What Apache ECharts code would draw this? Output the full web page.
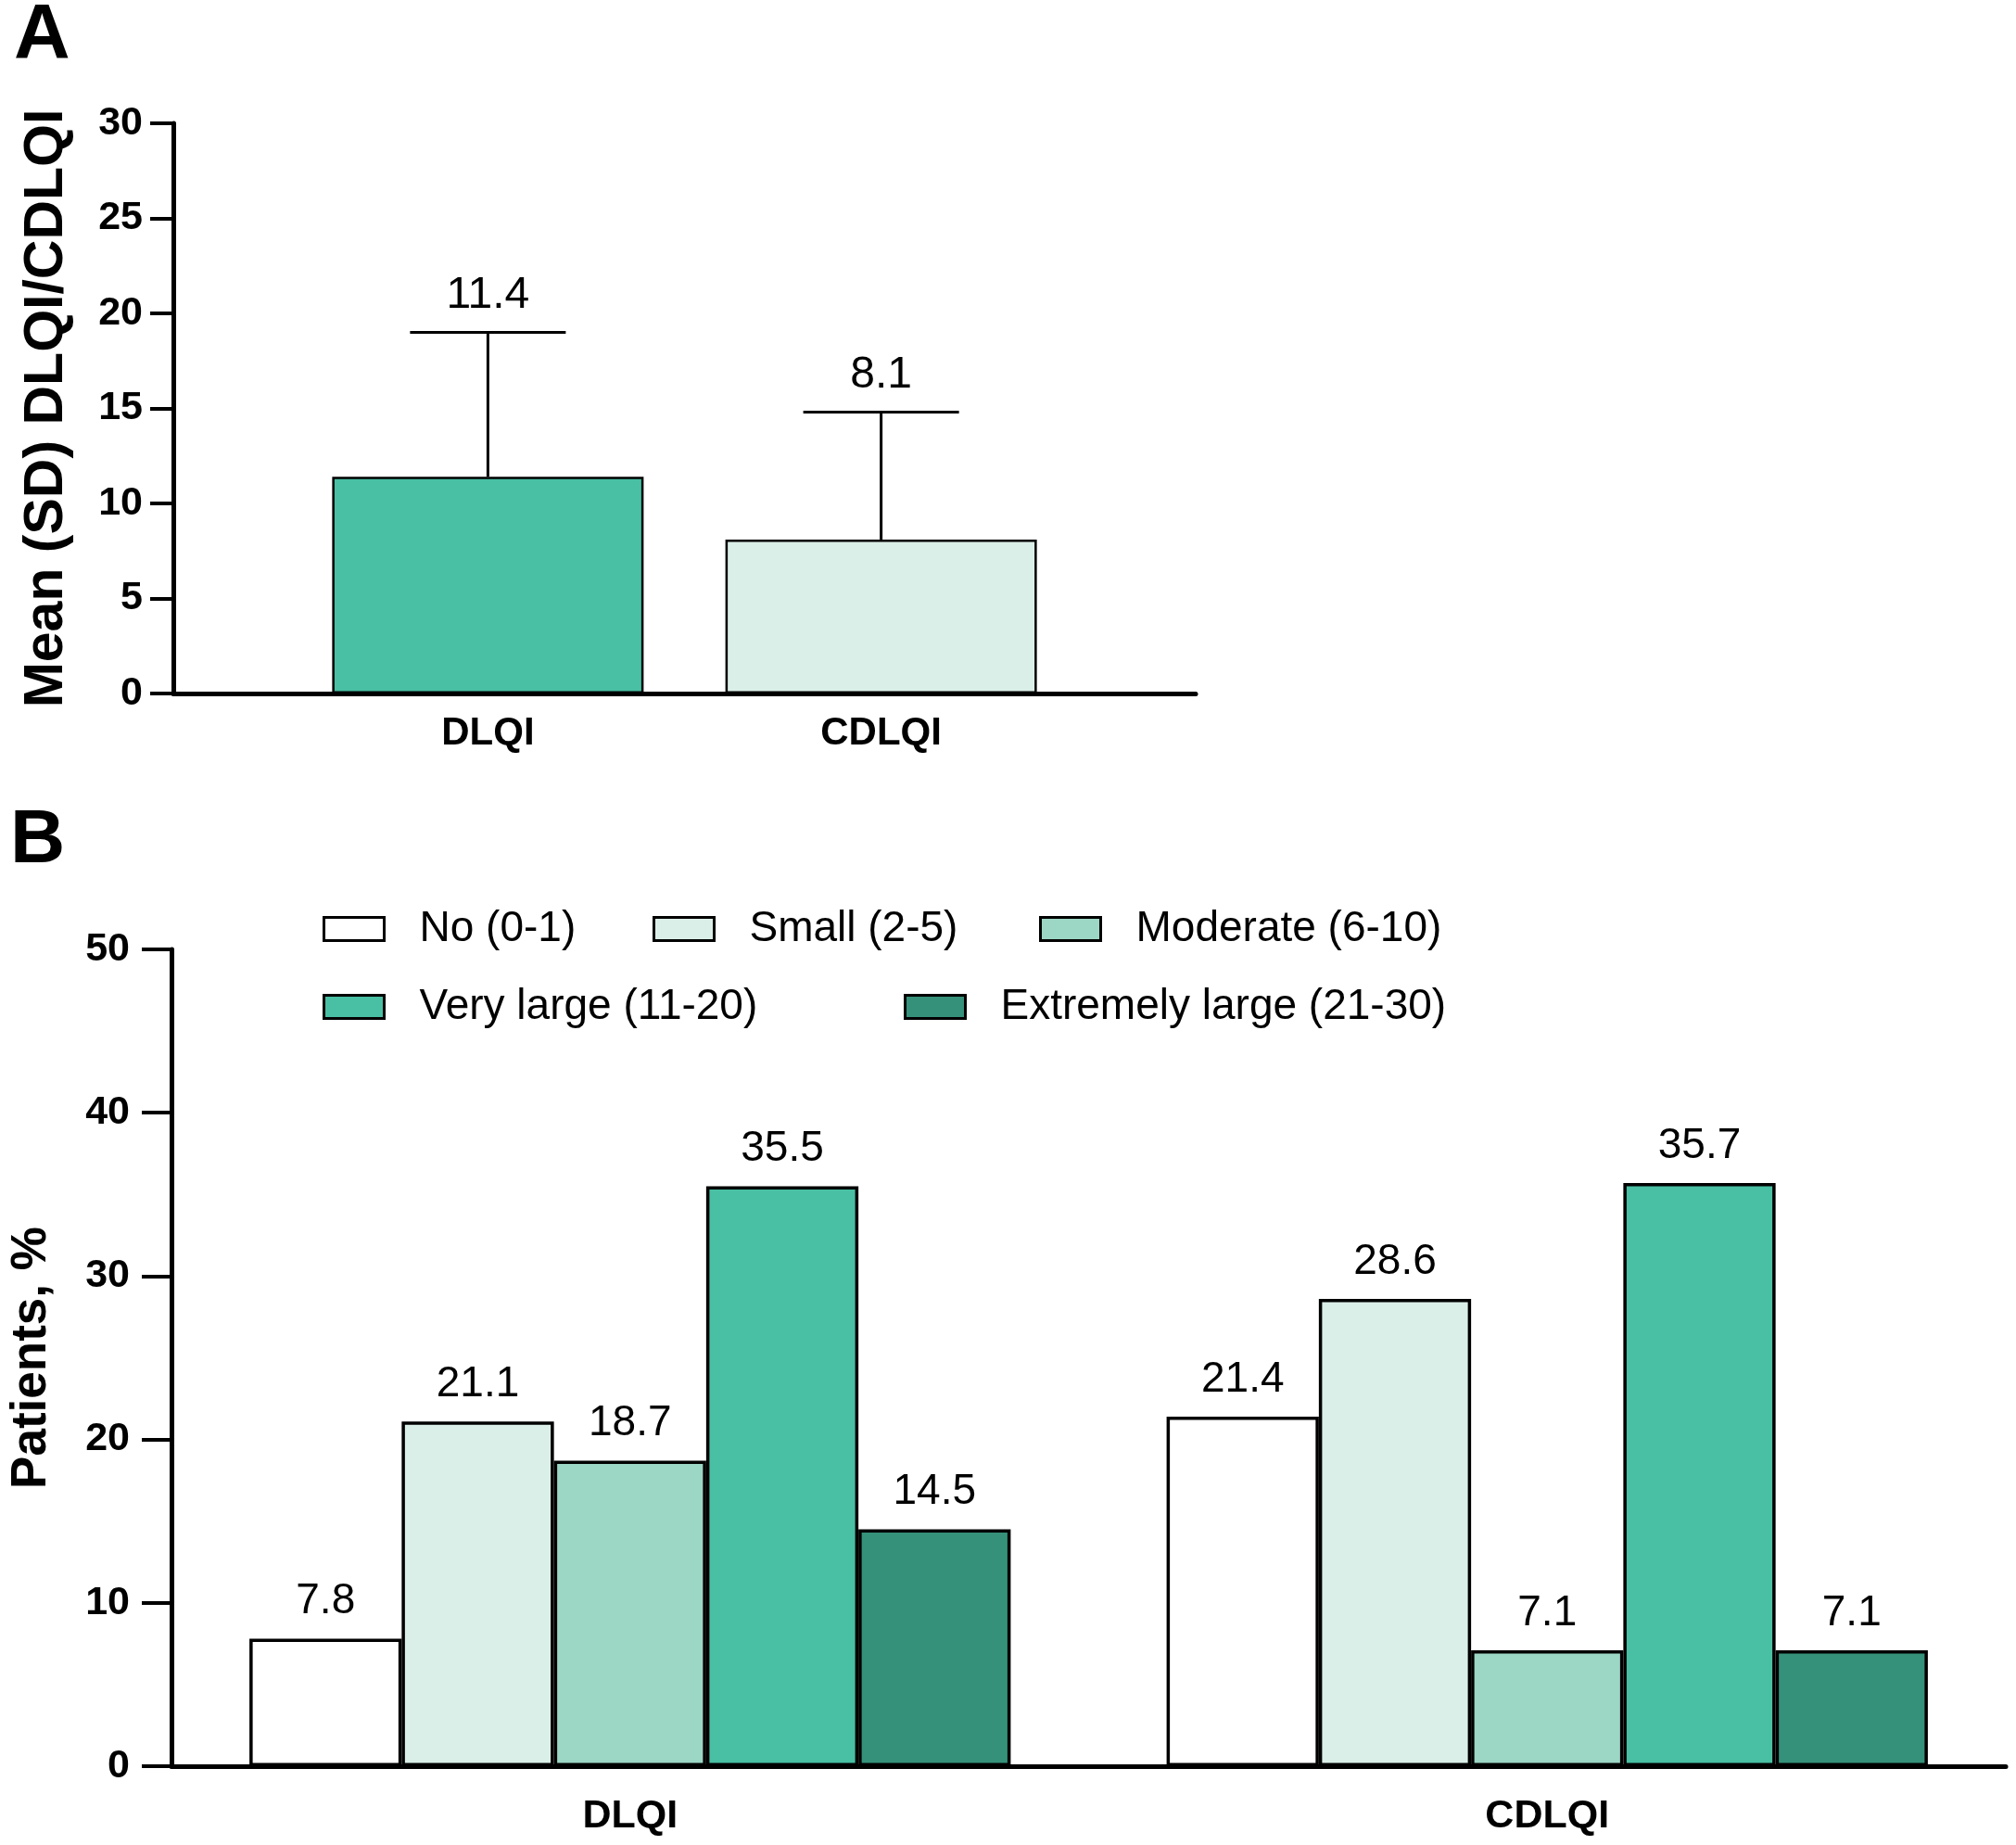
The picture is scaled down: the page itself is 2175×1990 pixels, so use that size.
<!DOCTYPE html>
<html>
<head>
<meta charset="utf-8">
<script src="https://cdn.jsdelivr.net/npm/echarts@6/dist/echarts.min.js"></script>
<style>
html,body{margin:0;padding:0;background:#fff;}
#c{width:2175px;height:1990px;}
</style>
</head>
<body>
<div id="c"></div>
<script>
// Panel A data
const aCategories = ['DLQI', 'CDLQI'];
const aMeans = [11.4, 8.1];
const aSD = [7.6, 6.7];
const aTicks = [0, 5, 10, 15, 20, 25, 30];

// Panel B data
const bCategories = ['DLQI', 'CDLQI'];
const bSeriesNames = ['No (0-1)', 'Small (2-5)', 'Moderate (6-10)', 'Very large (11-20)', 'Extremely large (21-30)'];
const bNo = [7.8, 21.4];
const bSmall = [21.1, 28.6];
const bModerate = [18.7, 7.1];
const bVeryLarge = [35.5, 35.7];
const bExtreme = [14.5, 7.1];
const bTicks = [0, 10, 20, 30, 40, 50];

const FONT = '"Liberation Sans", Arial, Helvetica, sans-serif';
const colors = ['#FFFFFF', '#DAEFE7', '#9CD6C4', '#49BFA3', '#35917A'];
const aColors = [colors[3], colors[1]];

const chart = echarts.init(document.getElementById('c'), null, {renderer: 'canvas'});

const bValues = [bNo, bSmall, bModerate, bVeryLarge, bExtreme];
const legendPos = [
  {left: 348, top: 979},
  {left: 704, top: 979},
  {left: 1121, top: 979},
  {left: 348, top: 1063},
  {left: 975, top: 1063}
];

const option = {
  backgroundColor: '#fff',
  animation: false,
  textStyle: {fontFamily: FONT},
  title: [
    {text: 'A', left: 15, top: -2, padding: 0, textStyle: {fontFamily: FONT, fontSize: 84, fontWeight: 'bold', color: '#000'}},
    {text: 'B', left: 11, top: 866, padding: 0, textStyle: {fontFamily: FONT, fontSize: 82, fontWeight: 'bold', color: '#000'}}
  ],
  legend: bSeriesNames.map((n, i) => ({
    data: [n],
    left: legendPos[i].left,
    top: legendPos[i].top,
    padding: 0,
    itemWidth: 65,
    itemHeight: 25,
    icon: 'rect',
    selectedMode: false,
    itemStyle: {borderColor: '#000', borderWidth: 3},
    textStyle: {fontFamily: FONT, fontSize: 46, color: '#000', padding: [0, 0, 0, 33], lineHeight: 46}
  })),
  grid: [
    {left: 187, top: 133, right: 885, bottom: 1242, containLabel: false},
    {left: 182, top: 1024, right: 11, bottom: 85, containLabel: false}
  ],
  xAxis: [
    {
      type: 'value', gridIndex: 0, min: 0.2, max: 2.8,
      axisLine: {show: true, lineStyle: {color: '#000', width: 5}},
      axisTick: {show: false},
      splitLine: {show: false},
      axisLabel: {
        customValues: [1, 2],
        formatter: v => aCategories[Math.round(v) - 1] || '',
        fontFamily: FONT, fontSize: 42, fontWeight: 'bold', color: '#000', margin: 22
      }
    },
    {
      type: 'category', gridIndex: 1, data: bCategories,
      axisLine: {show: true, lineStyle: {color: '#000', width: 5}},
      axisTick: {show: false},
      axisLabel: {fontFamily: FONT, fontSize: 43, fontWeight: 'bold', color: '#000', margin: 33}
    }
  ],
  yAxis: [
    {
      type: 'value', gridIndex: 0, min: aTicks[0], max: aTicks[aTicks.length - 1], interval: 5,
      name: 'Mean (SD) DLQI/CDLQI', nameLocation: 'middle', nameRotate: 90, nameGap: 107,
      nameTextStyle: {fontFamily: FONT, fontSize: 59, fontWeight: 'bold', color: '#000'},
      axisLine: {show: true, lineStyle: {color: '#000', width: 5}},
      axisTick: {show: true, length: 25, lineStyle: {color: '#000', width: 4}},
      splitLine: {show: false},
      axisLabel: {fontFamily: FONT, fontSize: 43, fontWeight: 'bold', color: '#000', margin: 33}
    },
    {
      type: 'value', gridIndex: 1, min: bTicks[0], max: bTicks[bTicks.length - 1], interval: 10,
      name: 'Patients, %', nameLocation: 'middle', nameRotate: 90, nameGap: 124,
      nameTextStyle: {fontFamily: FONT, fontSize: 53, fontWeight: 'bold', color: '#000'},
      axisLine: {show: true, lineStyle: {color: '#000', width: 5}},
      axisTick: {show: true, length: 32, lineStyle: {color: '#000', width: 4}},
      splitLine: {show: false},
      axisLabel: {fontFamily: FONT, fontSize: 43, fontWeight: 'bold', color: '#000', margin: 45}
    }
  ],
  series: [
    {
      type: 'bar', xAxisIndex: 0, yAxisIndex: 0, barWidth: 336,
      data: aMeans.map((m, i) => ({value: [i + 1, m], itemStyle: {color: aColors[i]}})),
      itemStyle: {borderColor: '#000', borderWidth: 2.5},
      z: 2
    },
    {
      type: 'custom', xAxisIndex: 0, yAxisIndex: 0,
      data: aMeans.map((m, i) => [i + 1, m, aSD[i]]),
      renderItem: function (params, api) {
        const x = api.value(0), m = api.value(1), sd = api.value(2);
        const p0 = api.coord([x, m]);
        const p1 = api.coord([x, m + sd]);
        const half = 84;
        return {
          type: 'group',
          children: [
            {type: 'line', shape: {x1: p0[0], y1: p0[1], x2: p1[0], y2: p1[1]}, style: {stroke: '#000', lineWidth: 3}},
            {type: 'line', shape: {x1: p1[0] - half, y1: p1[1], x2: p1[0] + half, y2: p1[1]}, style: {stroke: '#000', lineWidth: 3}},
            {type: 'text', x: p1[0], y: p1[1] - 40, style: {text: m.toFixed(1), fill: '#000', font: '48px ' + FONT, align: 'center', verticalAlign: 'middle'}}
          ]
        };
      },
      z: 3
    },
    ...bSeriesNames.map((n, i) => ({
      type: 'bar', name: n, xAxisIndex: 1, yAxisIndex: 1,
      data: bValues[i],
      barGap: '0%', barCategoryGap: '17%',
      itemStyle: {color: colors[i], borderColor: '#000', borderWidth: 3.5},
      label: {show: true, position: 'top', distance: 17, fontFamily: FONT, fontSize: 46, color: '#000', formatter: p => p.value.toFixed(1)}
    }))
  ]
};
chart.setOption(option);
</script>
</body>
</html>
